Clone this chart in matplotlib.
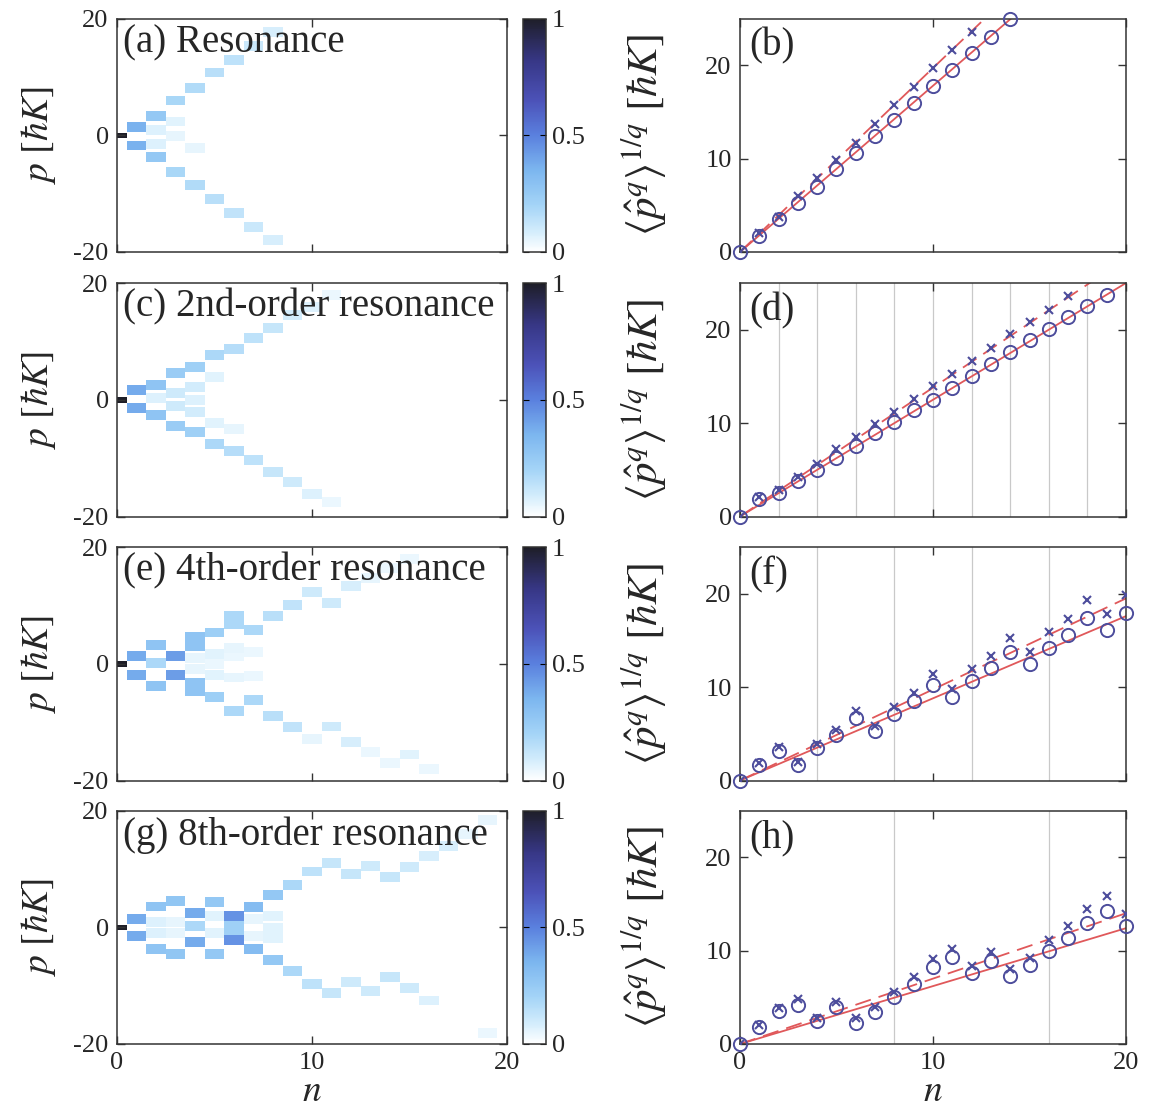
import numpy as np
import matplotlib
matplotlib.use('Agg')
import matplotlib.pyplot as plt
from matplotlib.colors import LinearSegmentedColormap

plt.rcParams['font.family'] = ['Liberation Serif', 'DejaVu Serif']
plt.rcParams['mathtext.fontset'] = 'stix'
plt.rcParams['axes.unicode_minus'] = False

# --- Dati: distribuzioni di momento (n, p, peso) ---
n_steps = list(range(21))

blocks_a = [(0, 0, 1.0),
            (1, 1.4, .36), (1, -1.7, .36),
            (2, 3.4, .26), (2, -3.6, .26), (2, 1.0, .07), (2, -1.4, .07),
            (3, 6.0, .19), (3, -6.2, .19), (3, 2.4, .06), (3, 0.0, .05),
            (4, 8.2, .17), (4, -8.4, .17), (4, -2.1, .05),
            (5, 10.8, .15), (5, -10.9, .15),
            (6, 12.9, .14), (6, -13.2, .13),
            (7, 15.3, .11), (7, -15.6, .11),
            (8, 17.7, .08), (8, -17.9, .08)]

blocks_c = [(0, 0, 1.0),
            (1, 1.7, .38), (1, -1.4, .38),
            (2, 2.6, .28), (2, -2.6, .28), (2, 0.3, .07),
            (3, 4.6, .24), (3, -4.5, .24), (3, 1.2, .10), (3, -1.0, .10),
            (4, 5.7, .22), (4, -5.4, .22), (4, 2.3, .09), (4, 0.0, .07), (4, -2.0, .09),
            (5, 7.7, .18), (5, -7.5, .18), (5, 4.0, .06), (5, -3.9, .06),
            (6, 8.8, .16), (6, -8.7, .16), (6, -4.9, .05),
            (7, 10.6, .14), (7, -10.2, .14),
            (8, 12.3, .12), (8, -12.3, .12),
            (9, 14.5, .09), (9, -14.1, .10),
            (10, 16.0, .07), (10, -16.1, .07),
            (11, 18.0, .04), (11, -17.5, .04)]

blocks_e = [(0, 0, 1.0),
            (1, 1.4, .38), (1, -1.8, .38),
            (2, 3.3, .28), (2, 0.1, .18), (2, -3.7, .28),
            (3, 1.4, .42), (3, -1.8, .42),
            (4, 4.6, .28), (4, 3.0, .28), (4, -3.2, .28), (4, -4.6, .28),
            (4, 1.0, .05), (4, -0.8, .05),
            (5, 5.4, .23), (5, -5.6, .23), (5, 1.7, .06), (5, 0.0, .04), (5, -1.8, .06),
            (6, 8.3, .18), (6, 6.9, .18), (6, -8.1, .18), (6, 2.8, .05), (6, 1.4, .04), (6, -2.3, .05),
            (7, 5.9, .18), (7, -6.2, .18), (7, 2.0, .04), (7, -2.0, .04),
            (8, 8.3, .15), (8, -8.9, .15),
            (9, 10.1, .13), (9, -10.8, .13),
            (10, 12.4, .10), (10, -12.8, .05),
            (11, 10.5, .10), (11, -10.7, .10),
            (12, 13.3, .08), (12, -13.4, .08),
            (13, 14.8, .05), (13, -15.0, .04),
            (14, 16.5, .04), (14, -16.9, .04),
            (15, 18.0, .04), (15, -15.5, .06),
            (16, -18.0, .04)]

blocks_g = [(0, 0, 1.0),
            (1, 1.5, .38), (1, -1.5, .38),
            (2, 3.6, .28), (2, -3.6, .28), (2, 1.0, .07), (2, -1.0, .07),
            (3, 4.6, .27), (3, -4.6, .27), (3, 1.0, .05), (3, -1.0, .05),
            (4, 2.5, .38), (4, -2.5, .38), (4, 0.3, .18),
            (5, 4.4, .26), (5, -4.5, .26), (5, 2.0, .06), (5, -1.0, .06),
            (6, 1.9, .45), (6, 0.6, .22), (6, -1.0, .22), (6, -2.1, .45),
            (7, 3.5, .32), (7, -3.6, .32), (7, 1.5, .05), (7, -1.5, .05),
            (8, 5.5, .26), (8, -5.6, .26), (8, 2.0, .06), (8, 0.0, .06), (8, -1.8, .06),
            (9, 7.3, .18), (9, -7.5, .18),
            (10, 9.6, .14), (10, -9.6, .14),
            (11, 11.0, .12), (11, -11.2, .12),
            (12, 9.2, .12), (12, -9.3, .10),
            (13, 10.6, .10), (13, -10.8, .10),
            (14, 8.6, .12), (14, -8.4, .12),
            (15, 10.3, .10), (15, -10.3, .10),
            (16, 12.3, .08), (16, -12.5, .07),
            (17, 13.9, .08),
            (18, 16.0, .05),
            (19, 18.5, .05), (19, -18.0, .04)]

# --- Dati: momenti <p^q>^(1/q), q=1 (cerchi) e q=2 (croci) ---
b_q1 = [0, 1.75, 3.54, 5.26, 6.98, 8.84, 10.63, 12.42, 14.14, 16.0, 17.8,
        19.48, 21.3, 23.06, 24.95]
b_q2 = [0, 2.0, 3.8, 6.0, 7.9, 9.8, 11.7, 13.7, 15.7, 17.7, 19.7, 21.6, 23.6]
d_q1 = [0, 1.85, 2.56, 3.8, 4.98, 6.3, 7.58, 8.9, 10.14, 11.4, 12.5, 13.8,
        15.05, 16.37, 17.6, 18.86, 20.1, 21.35, 22.5, 23.7]
d_q2 = [0, 2.06, 2.85, 4.27, 5.6, 7.2, 8.5, 9.86, 11.2, 12.6, 13.95, 15.3,
        16.7, 18.0, 19.5, 20.8, 22.1, 23.6]
f_q1 = [0, 1.64, 3.16, 1.64, 3.45, 4.9, 6.7, 5.27, 7.1, 8.55, 10.2, 8.9,
        10.65, 12.07, 13.8, 12.5, 14.2, 15.6, 17.45, 16.1, 17.9]
f_q2 = [0, 1.9, 3.6, 2.0, 3.9, 5.45, 7.45, 5.8, 7.9, 9.35, 11.45, 9.8,
        11.9, 13.3, 15.3, 13.8, 15.9, 17.3, 19.35, 17.8, 19.9]
h_q1 = [0, 1.78, 3.5, 4.2, 2.5, 3.96, 2.3, 3.42, 5.03, 6.45, 8.2, 9.27,
        7.6, 8.9, 7.24, 8.5, 10.0, 11.4, 13.0, 14.2, 12.6]
h_q2 = [0, 2.0, 3.85, 4.8, 2.8, 4.45, 2.8, 4.0, 5.6, 7.2, 9.1, 10.2,
        8.4, 9.8, 8.0, 9.2, 11.1, 12.65, 14.5, 15.8, 13.9]

# valore delle rette teoriche a n = 20 (partono da 0)
fit_end_q1 = [35.6, 25.0, 17.6, 12.4]
fit_end_q2 = [39.4, 27.6, 19.5, 14.0]

# linee verticali (periodo della risonanza)
vlines_b = []
vlines_d = [2, 4, 6, 8, 10, 12, 14, 16, 18]
vlines_f = [4, 8, 12, 16]
vlines_h = [8, 16]

titles = ['(a) Resonance', '(c) 2nd-order resonance',
          '(e) 4th-order resonance', '(g) 8th-order resonance']
right_labels = ['(b)', '(d)', '(f)', '(h)']

# --- Stile ---
text_col = '#262626'
blue = '#4d4d9c'
red = '#e0585a'
cmap = LinearSegmentedColormap.from_list('mappa', [
    (0.0, '#ffffff'), (0.08, '#d6eefc'), (0.2, '#a4d4f7'), (0.35, '#7cb6ef'),
    (0.5, '#5a80de'), (0.65, '#4c52b8'), (0.82, '#373786'), (1.0, '#1e1e28')])

half_block = 0.85
half_initial = 0.45
p_edges = np.arange(-20.5, 20.51, 0.1)
p_centers = 0.5 * (p_edges[1:] + p_edges[:-1])
n_edges = np.arange(-0.5, len(n_steps) + 0.5, 1.0)

W, H = 1150, 1108
fig = plt.figure(figsize=(W / 100, H / 100), dpi=100)

row_tops = [18.5, 283, 547, 810.5]
row_h = 233.5


def box(x, top, w):
    return [x / W, 1 - (top + row_h) / H, w / W, row_h / H]


def style(ax):
    ax.tick_params(direction='in', top=True, right=True, length=6, width=1,
                   labelsize=19, colors='#333333', labelcolor=text_col, pad=6)
    for s in ax.spines.values():
        s.set_color('#333333')
        s.set_linewidth(1.1)


def heatmap(ax, blocks):
    Z = np.zeros((len(p_centers), len(n_steps)))
    for n, p, w in blocks:
        half = half_initial if n == 0 else half_block
        mask = np.abs(p_centers - p) <= half
        Z[mask, n] = np.maximum(Z[mask, n], w)
    return ax.pcolormesh(n_edges, p_edges, Z, cmap=cmap, vmin=0, vmax=1,
                         shading='flat', rasterized=True)


def momenti(ax, q1, q2, end1, end2, vlines):
    for x in vlines:
        ax.axvline(x, color='#c9c9c9', lw=0.9, zorder=1)
    ax.plot([0, 20], [0, end1], color=red, lw=1.3, zorder=2)
    ax.plot([0, 20], [0, end2], color=red, lw=1.3, ls=(0, (9, 4.5)), zorder=2)
    ax.plot(range(len(q1)), q1, 'o', mfc='none', mec=blue, ms=9.5, mew=1.4,
            zorder=3, clip_on=False)
    ax.plot(range(len(q2)), q2, 'x', color=blue, ms=6, mew=1.5, zorder=3)


all_blocks = [blocks_a, blocks_c, blocks_e, blocks_g]
all_q1 = [b_q1, d_q1, f_q1, h_q1]
all_q2 = [b_q2, d_q2, f_q2, h_q2]
all_vlines = [vlines_b, vlines_d, vlines_f, vlines_h]

for i in range(4):
    top = row_tops[i]

    # pannello sinistro: distribuzione di momento
    ax = fig.add_axes(box(117, top, 390))
    mesh = heatmap(ax, all_blocks[i])
    ax.set_xlim(0, 20)
    ax.set_ylim(-20, 20)
    ax.set_xticks([0, 10, 20])
    ax.set_yticks([-20, 0, 20])
    style(ax)
    ax.set_ylabel(r'$p\ [\hbar K]$', fontsize=27, color=text_col)
    ax.yaxis.set_label_coords(-0.15, 0.5)
    ax.text(0.016, 0.975, titles[i], transform=ax.transAxes, ha='left',
            va='top', fontsize=28, color=text_col)
    if i < 3:
        ax.tick_params(labelbottom=False)
    else:
        ax.set_xlabel(r'$n$', fontsize=27, color=text_col, labelpad=0)

    cax = fig.add_axes(box(523, top, 23))
    cb = fig.colorbar(mesh, cax=cax, ticks=[0, 0.5, 1])
    cb.ax.set_yticklabels(['0', '0.5', '1'])
    cb.outline.set_edgecolor('#333333')
    cb.outline.set_linewidth(1.1)
    cax.tick_params(direction='in', left=True, right=True, length=4,
                    labelsize=19, labelcolor=text_col, pad=4)

    # pannello destro: momenti
    ax2 = fig.add_axes(box(740, top, 386))
    momenti(ax2, all_q1[i], all_q2[i], fit_end_q1[i], fit_end_q2[i],
            all_vlines[i])
    ax2.set_xlim(0, 20)
    ax2.set_ylim(0, 25)
    ax2.set_xticks([0, 10, 20])
    ax2.set_yticks([0, 10, 20])
    style(ax2)
    ax2.set_ylabel(r'$\langle\hat{p}^{q}\rangle^{1/q}\ [\hbar K]$',
                   fontsize=31, color=text_col)
    ax2.yaxis.set_label_coords(-0.185, 0.5)
    ax2.text(0.025, 0.96, right_labels[i], transform=ax2.transAxes,
             ha='left', va='top', fontsize=28, color=text_col)
    if i < 3:
        ax2.tick_params(labelbottom=False)
    else:
        ax2.set_xlabel(r'$n$', fontsize=27, color=text_col, labelpad=0)

fig.savefig('out.png', dpi=100)
